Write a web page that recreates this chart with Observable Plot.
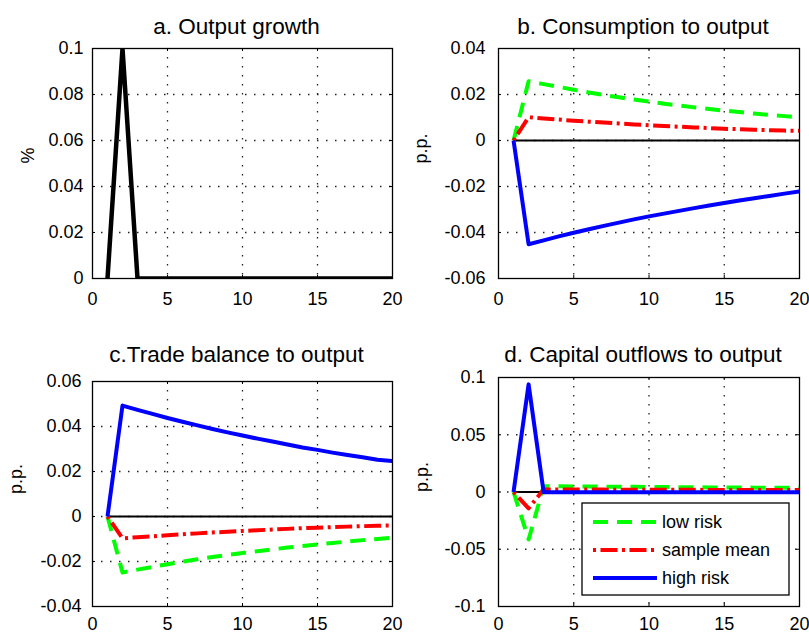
<!DOCTYPE html>
<html>
<head>
<meta charset="utf-8">
<script src="https://cdn.jsdelivr.net/npm/d3@7"></script>
<script src="https://cdn.jsdelivr.net/npm/@observablehq/plot@0.6"></script>
<style>
  html, body { margin: 0; padding: 0; background: #fff; }
  #chart { position: relative; width: 809px; height: 635px; background: #fff; overflow: hidden; }
  #chart svg { position: absolute; }
</style>
</head>
<body>
<div id="chart"></div>
<script>
// ---------------- data ----------------
const steps = [1,2,3,4,5,6,7,8,9,10,11,12,13,14,15,16,17,18,19,20];
const xTicks = [0,5,10,15,20];
const seriesNames = ["low risk", "sample mean", "high risk"];

const panelTitles = ["a. Output growth", "b. Consumption to output", "c.Trade balance to output", "d. Capital outflows to output"];
const panelUnits = ["%", "p.p.", "p.p.", "p.p."];

const yTicksA = [0, 0.02, 0.04, 0.06, 0.08, 0.1];
const yTicksB = [-0.06, -0.04, -0.02, 0, 0.02, 0.04];
const yTicksC = [-0.04, -0.02, 0, 0.02, 0.04, 0.06];
const yTicksD = [-0.1, -0.05, 0, 0.05, 0.1];

// a. Output growth
const outputGrowth = [0,0.1,0,0,0,0,0,0,0,0,0,0,0,0,0,0,0,0,0,0];

// b. Consumption to output
const consLow  = [0,0.0258,0.0245,0.0233,0.0221,0.0209,0.0198,0.0188,0.0178,0.0169,0.0160,0.0152,0.0144,0.0137,0.0130,0.0124,0.0117,0.0111,0.0106,0.0101];
const consMean = [0,0.0101,0.0096,0.0091,0.0086,0.0082,0.0078,0.0074,0.0070,0.0066,0.0063,0.0060,0.0057,0.0054,0.0051,0.0049,0.0047,0.0045,0.0043,0.0042];
const consHigh = [0,-0.0451,-0.0434,-0.0417,-0.0401,-0.0386,-0.0371,-0.0357,-0.0343,-0.0330,-0.0318,-0.0306,-0.0294,-0.0283,-0.0272,-0.0261,-0.0251,-0.0241,-0.0231,-0.0221];

// c. Trade balance to output
const tbLow  = [0,-0.0249,-0.0236,-0.0224,-0.0212,-0.0201,-0.0190,-0.0180,-0.0171,-0.0162,-0.0154,-0.0146,-0.0138,-0.0131,-0.0124,-0.0118,-0.0111,-0.0105,-0.0100,-0.0094];
const tbMean = [0,-0.0097,-0.0092,-0.0088,-0.0083,-0.0079,-0.0075,-0.0071,-0.0068,-0.0064,-0.0061,-0.0058,-0.0055,-0.0052,-0.0050,-0.0047,-0.0045,-0.0043,-0.0041,-0.0040];
const tbHigh = [0,0.0493,0.0474,0.0456,0.0438,0.0421,0.0405,0.0389,0.0374,0.0360,0.0346,0.0333,0.0320,0.0307,0.0296,0.0284,0.0273,0.0263,0.0252,0.0247];

// d. Capital outflows to output
const cfLow  = [0,-0.0415,0.0050,0.0050,0.0049,0.0048,0.0047,0.0046,0.0045,0.0044,0.0043,0.0042,0.0041,0.0040,0.0040,0.0039,0.0038,0.0038,0.0037,0.0037];
const cfMean = [0,-0.0143,0.0022,0.0022,0.0021,0.0021,0.0021,0.0020,0.0020,0.0020,0.0019,0.0019,0.0019,0.0018,0.0018,0.0018,0.0017,0.0017,0.0017,0.0017];
const cfHigh = [0,0.0940,-0.0002,-0.0002,-0.0002,-0.0002,-0.0002,-0.0002,-0.0002,-0.0002,-0.0002,-0.0002,-0.0002,-0.0002,-0.0002,-0.0002,-0.0002,-0.0002,-0.0002,-0.0002];

// ---------------- styles ----------------
const FONT = "'Liberation Sans', Arial, Helvetica, sans-serif";
const seriesStyles = [
  {stroke: "#00ff00", strokeDasharray: "15,9"},
  {stroke: "#ff0000", strokeDasharray: "3,4.5,17,4.5"},
  {stroke: "#0000ff", strokeDasharray: null}
];
const gridStyle = {stroke: "#222", strokeOpacity: 1, strokeWidth: 1.3, strokeDasharray: "1.5,7.5"};

function rows(vals) { return steps.map((s, i) => ({x: s, y: vals[i]})); }

function panel(cfg) {
  const fw = cfg.width - cfg.mL - cfg.mR;
  const fh = cfg.height - cfg.mT - cfg.mB;
  const marks = [
    Plot.gridX(xTicks.slice(1, -1), gridStyle),
    Plot.gridY(cfg.yTicks.slice(1, -1), gridStyle),
    Plot.axisX(xTicks, {tickSize: 0, tickPadding: cfg.xPad, label: null, tickFormat: d => String(d)}),
    Plot.axisY(cfg.yTicks, {tickSize: 0, tickPadding: cfg.yPad, label: null, tickFormat: d => String(d)}),
    // inward tick marks on all four sides
    Plot.tickX(xTicks, {x: d => d, insetTop: fh - 3, stroke: "black"}),
    Plot.tickX(xTicks, {x: d => d, insetBottom: fh - 3, stroke: "black"}),
    Plot.tickY(cfg.yTicks, {y: d => d, insetRight: fw - 3, stroke: "black"}),
    Plot.tickY(cfg.yTicks, {y: d => d, insetLeft: fw - 3, stroke: "black"})
  ];
  if (cfg.zero) {
    marks.push(Plot.ruleY([0], {x1: d3.min(steps), x2: d3.max(steps), stroke: "black", strokeWidth: 2.2}));
  }
  cfg.series.forEach((s) => {
    marks.push(Plot.line(rows(s.values), {
      x: "x", y: "y", stroke: s.stroke, strokeWidth: s.strokeWidth || 4,
      strokeDasharray: s.strokeDasharray, strokeLinecap: "butt", strokeLinejoin: "round", clip: true
    }));
  });
  marks.push(Plot.frame({stroke: "black", strokeWidth: 1.3}));
  marks.push(Plot.text([cfg.title], {text: d => d, frameAnchor: "top", lineAnchor: "bottom", dy: cfg.titleDy, dx: -6, fontSize: 22.5, fill: "black"}));
  marks.push(Plot.text([cfg.unit], {text: d => d, frameAnchor: "left", lineAnchor: "bottom", rotate: -90, dx: cfg.unitDx, fontSize: 18, fill: "black"}));

  const svg = Plot.plot({
    width: cfg.width, height: cfg.height,
    marginLeft: cfg.mL, marginRight: cfg.mR, marginTop: cfg.mT, marginBottom: cfg.mB,
    x: {domain: [0, 20]},
    y: {domain: cfg.yDomain},
    style: {fontFamily: FONT, fontSize: "18px", color: "black", background: "transparent", overflow: "visible"},
    marks
  });
  svg.style.left = cfg.left + "px";
  svg.style.top = cfg.top + "px";
  return svg;
}

const chart = document.getElementById("chart");

chart.appendChild(panel({
  left: 0, top: 0, width: 404, height: 320, mL: 92, mR: 12, mT: 48, mB: 42, xPad: 14, yPad: 9,
  yDomain: [0, 0.1], yTicks: yTicksA, title: panelTitles[0], unit: panelUnits[0], titleDy: -15, unitDx: -59,
  zero: false,
  series: [{values: outputGrowth, stroke: "black", strokeWidth: 4.5}]
}));

chart.appendChild(panel({
  left: 404, top: 0, width: 405, height: 320, mL: 94, mR: 10, mT: 48, mB: 42, xPad: 14, yPad: 13,
  yDomain: [-0.06, 0.04], yTicks: yTicksB, title: panelTitles[1], unit: panelUnits[1], titleDy: -15, unitDx: -72,
  zero: true,
  series: [consLow, consMean, consHigh].map((v, i) => ({values: v, ...seriesStyles[i]}))
}));

chart.appendChild(panel({
  left: 0, top: 320, width: 404, height: 315, mL: 92, mR: 12, mT: 61, mB: 29, xPad: 11, yPad: 11,
  yDomain: [-0.04, 0.06], yTicks: yTicksC, title: panelTitles[2], unit: panelUnits[2], titleDy: -20, unitDx: -71,
  zero: true,
  series: [tbLow, tbMean, tbHigh].map((v, i) => ({values: v, ...seriesStyles[i]}))
}));

chart.appendChild(panel({
  left: 404, top: 320, width: 405, height: 315, mL: 94, mR: 10, mT: 57, mB: 29, xPad: 11, yPad: 13,
  yDomain: [-0.1, 0.1], yTicks: yTicksD, title: panelTitles[3], unit: panelUnits[3], titleDy: -16, unitDx: -71,
  zero: true,
  series: [cfLow, cfMean, cfHigh].map((v, i) => ({values: v, ...seriesStyles[i]}))
}));

// ---------------- legend (panel d) ----------------
const lg = d3.select(chart).append("svg")
  .attr("width", 809).attr("height", 635)
  .style("left", "0px").style("top", "0px")
  .style("font-family", FONT).style("font-size", "18px");
const box = {x: 582, y: 503, w: 207, h: 92};
lg.append("rect").attr("x", box.x).attr("y", box.y).attr("width", box.w).attr("height", box.h)
  .attr("fill", "white").attr("stroke", "black").attr("stroke-width", 1.3);
const rowY = [522, 550, 578];
seriesNames.forEach((name, i) => {
  const st = seriesStyles[i];
  lg.append("line").attr("x1", 593).attr("x2", 657).attr("y1", rowY[i]).attr("y2", rowY[i])
    .attr("stroke", st.stroke).attr("stroke-width", 4)
    .attr("stroke-dasharray", st.strokeDasharray);
  lg.append("text").attr("x", 662).attr("y", rowY[i]).attr("dy", "0.35em")
    .attr("fill", "black").text(name);
});
</script>
</body>
</html>
